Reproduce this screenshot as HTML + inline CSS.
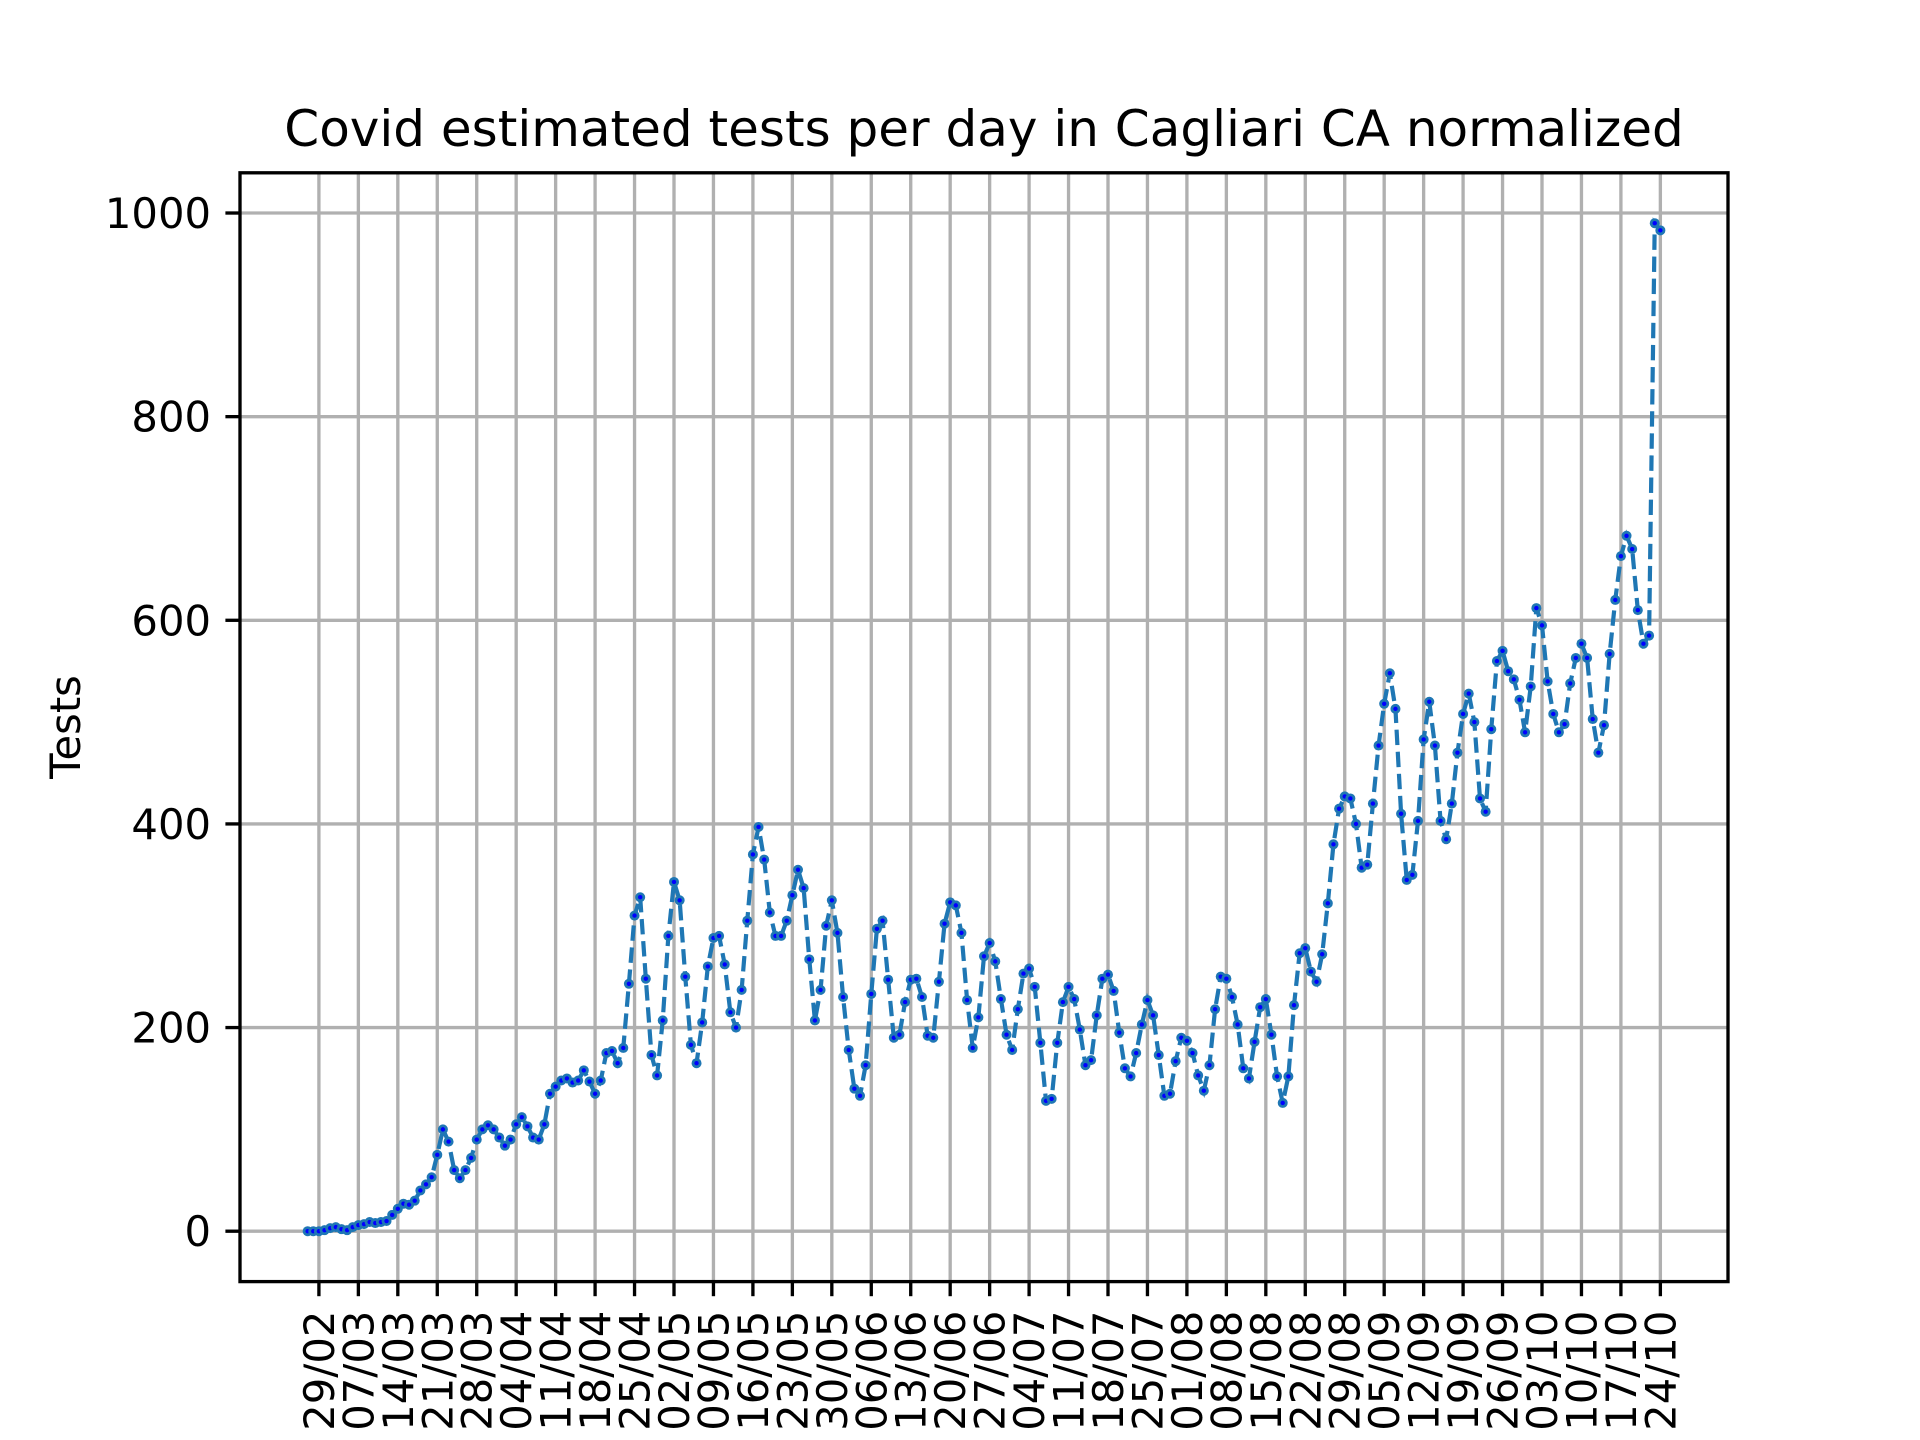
<!DOCTYPE html>
<html><head><meta charset="utf-8"><style>
html,body{margin:0;padding:0;background:#fff;}
svg{display:block;font-family:"DejaVu Sans","Liberation Sans",sans-serif;}
</style></head><body>
<svg id="chart" width="1920" height="1440" viewBox="0 0 1920 1440" xmlns="http://www.w3.org/2000/svg">
<rect width="1920" height="1440" fill="#fff"/>
<text x="984" y="146" font-size="50" text-anchor="middle" fill="#000">Covid estimated tests per day in Cagliari CA normalized</text>
<text x="0" y="0" font-size="41.7" text-anchor="middle" fill="#000" transform="translate(80,727) rotate(-90)">Tests</text>
<g id="grid"></g><g id="series"></g><g id="axes"></g>
</svg>
<script>
const startDate = [2020, 1, 27]; // 27/02/2020
const testsValues = [0,0,0,1,3,4,2,1,4,6,7,9,8,9,10,16,22,27,26,30,40,46,53,75,100,88,60,52,60,72,90,100,104,100,92,84,90,105,112,103,92,90,105,135,142,148,150,146,148,158,147,135,148,175,177,165,180,243,310,328,248,173,153,207,290,343,325,250,183,165,205,260,288,290,262,215,200,237,305,370,397,365,313,290,290,305,330,355,337,267,207,237,300,325,293,230,178,140,133,163,233,297,305,247,190,193,225,247,248,230,192,190,245,302,323,320,293,227,180,210,270,283,265,228,193,178,218,253,258,240,185,128,130,185,225,240,228,198,163,168,212,248,252,236,195,160,152,175,203,227,212,173,133,135,167,190,187,175,153,138,163,218,250,248,230,203,160,150,186,220,228,193,152,126,152,222,273,278,255,245,272,322,380,415,427,425,400,357,360,420,477,518,548,513,410,345,350,403,483,520,477,403,385,420,470,508,528,500,425,412,493,560,570,550,542,522,490,535,612,595,540,508,490,498,538,563,577,563,503,470,497,567,620,663,683,670,610,577,585,990,983];
const yTickValues = [0,200,400,600,800,1000];
const tickStartIndex = 2;
const tickStep = 7;

const L=240,R=1728,T=172.8,B=1281.6;
const n=testsValues.length;
const xmin=-0.05*(n-1), xmax=(n-1)*1.05;
const dmax=Math.max(...testsValues), dmin=Math.min(...testsValues);
const ymin=dmin-0.05*(dmax-dmin), ymax=dmax+0.05*(dmax-dmin);
const xs=i=>L+(i-xmin)/(xmax-xmin)*(R-L);
const ys=v=>B-(v-ymin)/(ymax-ymin)*(B-T);
const NS='http://www.w3.org/2000/svg';
function mk(tag,attrs,parent){const e=document.createElementNS(NS,tag);for(const k in attrs)e.setAttribute(k,attrs[k]);parent.appendChild(e);return e;}
const grid=document.getElementById('grid'),series=document.getElementById('series'),axes=document.getElementById('axes');
function lbl(i){const d=new Date(startDate[0],startDate[1],startDate[2]+i);return String(d.getDate()).padStart(2,'0')+'/'+String(d.getMonth()+1).padStart(2,'0');}
for(let i=tickStartIndex;i<n;i+=tickStep){
  const x=xs(i);
  const g=mk('line',{x1:x,x2:x,y1:T,y2:B,stroke:'#b0b0b0','stroke-width':3.33},grid);
  
  
  const t=mk('line',{x1:x,x2:x,y1:B,y2:B+14.6,stroke:'#000','stroke-width':3.33},axes);
  
  
  const tx=mk('text',{x:0,y:0,'font-size':41.7,'text-anchor':'end',fill:'#000',transform:`translate(${x+15},${B+29}) rotate(-90)`},axes);
  tx.textContent=lbl(i);
  
  
}
yTickValues.forEach(v=>{
  const y=ys(v);
  const g=mk('line',{x1:L,x2:R,y1:y,y2:y,stroke:'#b0b0b0','stroke-width':3.33},grid);
  
  
  const t=mk('line',{x1:L-14.6,x2:L,y1:y,y2:y,stroke:'#000','stroke-width':3.33},axes);
  
  
  const tx=mk('text',{x:L-29,y:y+15,'font-size':41.7,'text-anchor':'end',fill:'#000'},axes);
  tx.textContent=String(v);
  
  
});
const pts=testsValues.map((v,i)=>xs(i).toFixed(2)+','+ys(v).toFixed(2)).join(' ');
const pl=mk('polyline',{points:pts,fill:'none',stroke:'#1f77b4','stroke-width':4.2,'stroke-dasharray':'15.4 6.7'},series);


testsValues.forEach((v,i)=>{
  const c=mk('circle',{cx:xs(i),cy:ys(v),r:5,fill:'#1f77b4'},series);
  
  
  const d=mk('circle',{cx:xs(i),cy:ys(v),r:2.2,fill:'#0000ff'},series);
  
  
});
const fr=mk('rect',{x:L,y:T,width:R-L,height:B-T,fill:'none',stroke:'#000','stroke-width':3.33},axes);


</script>
</body></html>
